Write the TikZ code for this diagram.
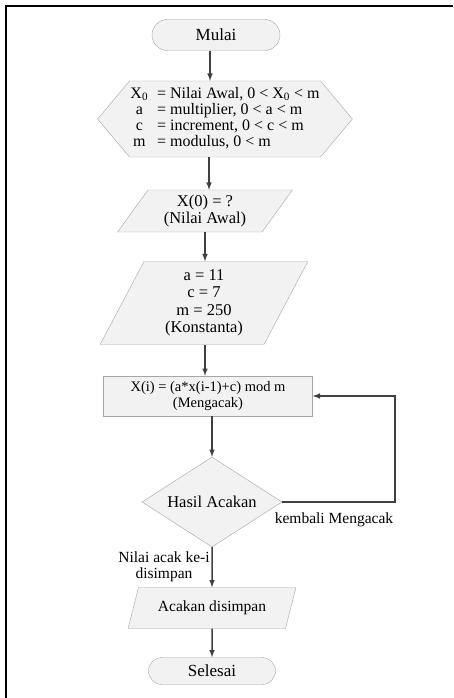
\documentclass[tikz,border=0pt]{standalone}
\usepackage{fontspec}
\setmainfont{Liberation Serif}
\usetikzlibrary{shapes.geometric,shapes.misc,shapes.symbols}

\begin{document}
\begin{tikzpicture}
    [x=1pt, y=-1pt,
     box/.style={draw=black!35, fill=black!5, align=center,
       font=\fontsize{16.5}{17.5}\selectfont, inner sep=1pt},
     term/.style={box, rounded rectangle, font=\fontsize{17}{18}\selectfont,
       minimum width=130pt, minimum height=31pt},
     hexa/.style={box, signal, signal to=west and east, signal pointer angle=100,
       font=\fontsize{16}{17}\selectfont, minimum width=254pt, minimum height=76pt},
     io/.style={box, trapezium, trapezium stretches=true},
     proc/.style={box, rectangle, font=\fontsize{14.5}{16.5}\selectfont,
       minimum width=209pt, minimum height=40pt},
     decision/.style={box, diamond, aspect=1.55, minimum width=140pt, minimum height=90pt},
     flow/.style={->, >=latex, draw=black!75, line width=1.5pt},
     lbl/.style={font=\fontsize{15.5}{16}\selectfont, align=center, inner sep=0pt}]
    \useasboundingbox (0,0) rectangle (453,698);
    % frame (left and top edge only)
    \draw[line width=2.5pt] (6,698) -- (6,6) -- (453,6);

    \node[term] (mulai) at (216,35) {Mulai};
    \node[hexa] (init) at (225,119) {%
      \def\arraystretch{0.95}%
      \begin{tabular}{@{}c@{\hspace{9pt}}l@{}}
        X\textsubscript{0} & = Nilai Awal, 0 < X\textsubscript{0} < m \\
        a & = multiplier, 0 < a < m \\
        c & = increment, 0 < c < m \\
        m & = modulus, 0 < m
      \end{tabular}};
    \node[io, trapezium left angle=57, trapezium right angle=123,
      minimum width=175pt, minimum height=42pt] (awal) at (205,211)
      {X(0) = ?\\(Nilai Awal)};
    \node[io, trapezium left angle=67, trapezium right angle=113,
      minimum width=208pt, minimum height=83pt] (konst) at (204,303)
      {a = 11\\c = 7\\m = 250\\(Konstanta)};
    \node[proc] (acak) at (208,396) {X(i) = (a*x(i-1)+c) mod m\\(Mengacak)};
    \node[decision] (hasil) at (212,502) {Hasil Acakan};
    \node[io, trapezium left angle=64, trapezium right angle=116,
      minimum width=168pt, minimum height=41pt, font=\fontsize{15.5}{17}\selectfont]
      (simpan) at (212,608) {Acakan disimpan};
    \node[term, minimum width=129pt, minimum height=27pt] (selesai) at (212,671) {Selesai};

    \coordinate (balik) at (395,502);
    \node[lbl] (kembali) at (334,520) {kembali Mengacak};
    \node[lbl] (nilai) at (164,567) {Nilai acak ke-i\\disimpan};

    \draw[flow] (210,0 |- mulai.south) -- (210,0 |- init.north);
    \draw[flow] (209,0 |- init.south) -- (209,0 |- awal.north);
    \draw[flow] (awal.south) -- (awal.south |- konst.north);
    \draw[flow] (awal.south |- konst.south) -- (awal.south |- acak.north);
    \draw[flow] (hasil.north |- acak.south) -- (hasil.north);
    \draw[flow] (hasil.south) -- (simpan.north);
    \draw[flow] (simpan.south) -- (selesai.north);
    \draw[flow] (hasil.east) -- (balik) |- (acak.east);
\end{tikzpicture}
\end{document}
